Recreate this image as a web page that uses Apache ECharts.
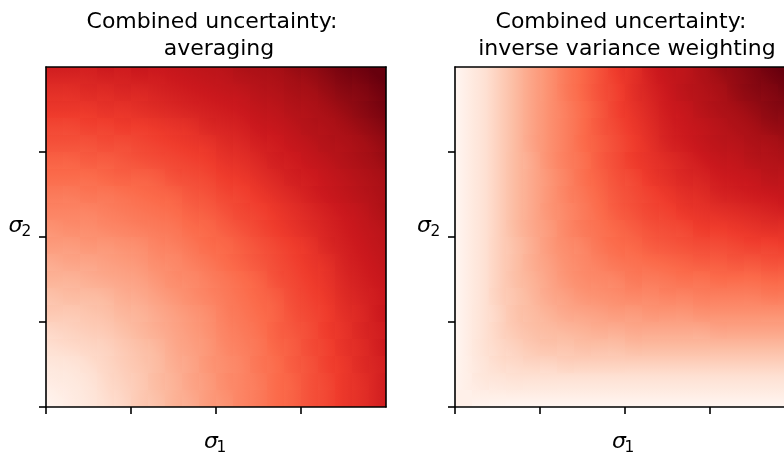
<!DOCTYPE html>
<html>
<head>
<meta charset="utf-8">
<script src="https://cdn.jsdelivr.net/npm/echarts@6/dist/echarts.min.js"></script>
<style>
  html, body { margin: 0; padding: 0; background: #fff; }
  #chart { width: 784px; height: 457px; }
</style>
</head>
<body>
<div id="chart"></div>
<script>
// sigma grid: cell centres along each axis (same for sigma_1 and sigma_2)
const SIGMA_CATEGORIES = ['0.025','0.075','0.125','0.175','0.225','0.275','0.325','0.375','0.425','0.475',
                          '0.525','0.575','0.625','0.675','0.725','0.775','0.825','0.875','0.925','0.975'];

// tick positions on the unit sigma axes (no tick labels are shown)
const TICK_VALUES = [0, 0.25, 0.5, 0.75];
const TICK_LABELS = ['', '', '', ''];

// combined uncertainty by averaging; one row per sigma_2 cell (bottom row first), one column per sigma_1 cell
const AVERAGING = [
  [.02,.04,.06,.09,.11,.14,.16,.19,.21,.24,.26,.29,.31,.34,.36,.39,.41,.44,.46,.49],
  [.04,.05,.07,.10,.12,.14,.17,.19,.22,.24,.27,.29,.31,.34,.36,.39,.41,.44,.46,.49],
  [.06,.07,.09,.11,.13,.15,.17,.20,.22,.25,.27,.29,.32,.34,.37,.39,.42,.44,.47,.49],
  [.09,.10,.11,.12,.14,.16,.18,.21,.23,.25,.28,.30,.32,.35,.37,.40,.42,.45,.47,.50],
  [.11,.12,.13,.14,.16,.18,.20,.22,.24,.26,.29,.31,.33,.36,.38,.40,.43,.45,.48,.50],
  [.14,.14,.15,.16,.18,.19,.21,.23,.25,.27,.30,.32,.34,.36,.39,.41,.43,.46,.48,.51],
  [.16,.17,.17,.18,.20,.21,.23,.25,.27,.29,.31,.33,.35,.37,.40,.42,.44,.47,.49,.51],
  [.19,.19,.20,.21,.22,.23,.25,.27,.28,.30,.32,.34,.36,.39,.41,.43,.45,.48,.50,.52],
  [.21,.22,.22,.23,.24,.25,.27,.28,.30,.32,.34,.36,.38,.40,.42,.44,.46,.49,.51,.53],
  [.24,.24,.25,.25,.26,.27,.29,.30,.32,.34,.35,.37,.39,.41,.43,.45,.48,.50,.52,.54],
  [.26,.27,.27,.28,.29,.30,.31,.32,.34,.35,.37,.39,.41,.43,.45,.47,.49,.51,.53,.55],
  [.29,.29,.29,.30,.31,.32,.33,.34,.36,.37,.39,.41,.42,.44,.46,.48,.50,.52,.54,.57],
  [.31,.31,.32,.32,.33,.34,.35,.36,.38,.39,.41,.42,.44,.46,.48,.50,.52,.54,.56,.58],
  [.34,.34,.34,.35,.36,.36,.37,.39,.40,.41,.43,.44,.46,.48,.50,.51,.53,.55,.57,.59],
  [.36,.36,.37,.37,.38,.39,.40,.41,.42,.43,.45,.46,.48,.50,.51,.53,.55,.57,.59,.61],
  [.39,.39,.39,.40,.40,.41,.42,.43,.44,.45,.47,.48,.50,.51,.53,.55,.57,.58,.60,.62],
  [.41,.41,.42,.42,.43,.43,.44,.45,.46,.48,.49,.50,.52,.53,.55,.57,.58,.60,.62,.64],
  [.44,.44,.44,.45,.45,.46,.47,.48,.49,.50,.51,.52,.54,.55,.57,.58,.60,.62,.64,.66],
  [.46,.46,.47,.47,.48,.48,.49,.50,.51,.52,.53,.54,.56,.57,.59,.60,.62,.64,.65,.67],
  [.49,.49,.49,.50,.50,.51,.51,.52,.53,.54,.55,.57,.58,.59,.61,.62,.64,.66,.67,.69]
];

// combined uncertainty by inverse variance weighting; same layout as above
const INVERSE_VARIANCE = [
  [.02,.02,.02,.02,.02,.02,.02,.02,.02,.02,.02,.02,.02,.02,.02,.02,.02,.02,.02,.02],
  [.02,.05,.06,.07,.07,.07,.07,.07,.07,.07,.07,.07,.07,.07,.07,.07,.07,.07,.07,.07],
  [.02,.06,.09,.10,.11,.11,.12,.12,.12,.12,.12,.12,.12,.12,.12,.12,.12,.12,.12,.12],
  [.02,.07,.10,.12,.14,.15,.15,.16,.16,.16,.17,.17,.17,.17,.17,.17,.17,.17,.17,.17],
  [.02,.07,.11,.14,.16,.17,.18,.19,.20,.20,.21,.21,.21,.21,.21,.22,.22,.22,.22,.22],
  [.02,.07,.11,.15,.17,.19,.21,.22,.23,.24,.24,.25,.25,.25,.26,.26,.26,.26,.26,.26],
  [.02,.07,.12,.15,.18,.21,.23,.25,.26,.27,.28,.28,.29,.29,.30,.30,.30,.30,.31,.31],
  [.02,.07,.12,.16,.19,.22,.25,.27,.28,.29,.31,.31,.32,.33,.33,.34,.34,.34,.35,.35],
  [.02,.07,.12,.16,.20,.23,.26,.28,.30,.32,.33,.34,.35,.36,.37,.37,.38,.38,.39,.39],
  [.02,.07,.12,.16,.20,.24,.27,.29,.32,.34,.35,.37,.38,.39,.40,.40,.41,.42,.42,.43],
  [.02,.07,.12,.17,.21,.24,.28,.31,.33,.35,.37,.39,.40,.41,.43,.43,.44,.45,.46,.46],
  [.02,.07,.12,.17,.21,.25,.28,.31,.34,.37,.39,.41,.42,.44,.45,.46,.47,.48,.49,.50],
  [.02,.07,.12,.17,.21,.25,.29,.32,.35,.38,.40,.42,.44,.46,.47,.49,.50,.51,.52,.53],
  [.02,.07,.12,.17,.21,.25,.29,.33,.36,.39,.41,.44,.46,.48,.49,.51,.52,.53,.55,.55],
  [.02,.07,.12,.17,.21,.26,.30,.33,.37,.40,.43,.45,.47,.49,.51,.53,.54,.56,.57,.58],
  [.02,.07,.12,.17,.22,.26,.30,.34,.37,.40,.43,.46,.49,.51,.53,.55,.56,.58,.59,.61],
  [.02,.07,.12,.17,.22,.26,.30,.34,.38,.41,.44,.47,.50,.52,.54,.56,.58,.60,.62,.63],
  [.02,.07,.12,.17,.22,.26,.30,.34,.38,.42,.45,.48,.51,.53,.56,.58,.60,.62,.64,.65],
  [.02,.07,.12,.17,.22,.26,.31,.35,.39,.42,.46,.49,.52,.55,.57,.59,.62,.64,.65,.67],
  [.02,.07,.12,.17,.22,.26,.31,.35,.39,.43,.46,.50,.53,.55,.58,.61,.63,.65,.67,.69]
];

const PANEL_TITLES = [
  ['Combined uncertainty:', 'averaging'],
  ['Combined uncertainty:', 'inverse variance weighting']
];

// "Reds" sequential colour ramp and the value range it spans
const REDS = ['#fff5f0','#fee0d2','#fcbba1','#fc9272','#fb6a4a','#ef3b2c','#cb181d','#a50f15','#67000d'];
const COLOR_MIN = 0;
const COLOR_MAX = 0.69;

function colorOf(v) {
  const t = Math.max(0, Math.min(1, (v - COLOR_MIN) / (COLOR_MAX - COLOR_MIN)));
  return echarts.color.lerp(t, REDS);
}

function toCells(rows) {
  const out = [];
  rows.forEach((row, j) => row.forEach((v, i) => out.push([i, j, v])));
  return out;
}

// Each cell is placed through the category axes and shaded with a linear
// gradient that follows the local slope of the table, so neighbouring
// cells blend into a continuous field instead of flat blocks.
function shadedCells(rows) {
  const n = rows.length;
  const at = (i, j) => rows[j][i];
  return function (params, api) {
    const i = api.value(0), j = api.value(1), v = api.value(2);
    const c = api.coord([i, j]);
    const size = api.size([1, 1]);
    const w = size[0], h = size[1];
    const dx = i === 0 ? at(1, j) - at(0, j)
             : i === n - 1 ? at(n - 1, j) - at(n - 2, j)
             : (at(i + 1, j) - at(i - 1, j)) / 2;
    const dy = j === 0 ? at(i, 1) - at(i, 0)
             : j === n - 1 ? at(i, n - 1) - at(i, n - 2)
             : (at(i, j + 1) - at(i, j - 1)) / 2;
    const gx = dx / w, gy = -dy / h;
    const m = Math.hypot(gx, gy);
    let fill = colorOf(v);
    if (m > 1e-9) {
      const ux = gx / m, uy = gy / m;
      const half = (Math.abs(ux) * w + Math.abs(uy) * h) / 2;
      const stops = [];
      for (let k = 0; k <= 6; k++) {
        const t = k / 6;
        stops.push({ offset: t, color: colorOf(v + m * (-half + 2 * half * t)) });
      }
      fill = new echarts.graphic.LinearGradient(
        c[0] - ux * half, c[1] - uy * half, c[0] + ux * half, c[1] + uy * half, stops, true);
    }
    return {
      type: 'rect',
      shape: { x: c[0] - w / 2, y: c[1] - h / 2, width: w, height: h },
      style: { fill: fill, stroke: null }
    };
  };
}

const LINE = { color: '#000', width: 1.6 };
const TEXT_FONT = '22px "DejaVu Sans"';
const SIGMA_FONT = 'italic 22px "DejaVu Sans"';
const SUB_FONT = '15.4px "DejaVu Sans"';

function categoryAxis(gridIndex, position) {
  return {
    type: 'category', gridIndex, position, data: SIGMA_CATEGORIES, z: 10,
    axisLine: { show: true, onZero: false, lineStyle: LINE },
    axisTick: { show: false }, axisLabel: { show: false }, splitLine: { show: false }
  };
}
function tickAxis(gridIndex, position) {
  return {
    type: 'value', gridIndex, position, min: 0, max: 1, z: 10,
    axisLine: { show: true, onZero: false, lineStyle: LINE },
    axisTick: { show: true, length: 7, customValues: TICK_VALUES, lineStyle: LINE },
    axisLabel: { show: false, customValues: TICK_VALUES, formatter: (v) => TICK_LABELS[TICK_VALUES.indexOf(v)] || '' },
    splitLine: { show: false }
  };
}

function text(x, y, str, font, align) {
  return {
    type: 'text', x, y, z: 100,
    style: { text: str, font, fill: '#000', textAlign: align || 'center', textVerticalAlign: 'middle' }
  };
}

const chart = echarts.init(document.getElementById('chart'), null, { renderer: 'canvas' });

chart.setOption({
  animation: false,
  backgroundColor: '#fff',
  grid: [
    { left: 46, top: 67, width: 340, height: 340, outerBoundsMode: 'none', containLabel: false },
    { left: 455, top: 67, width: 340, height: 340, outerBoundsMode: 'none', containLabel: false }
  ],
  xAxis: [categoryAxis(0, 'top'), tickAxis(0, 'bottom'), categoryAxis(1, 'top'), tickAxis(1, 'bottom')],
  yAxis: [categoryAxis(0, 'right'), tickAxis(0, 'left'), categoryAxis(1, 'right'), tickAxis(1, 'left')],
  series: [
    {
      type: 'custom', xAxisIndex: 0, yAxisIndex: 0, data: toCells(AVERAGING),
      renderItem: shadedCells(AVERAGING), silent: true, clip: true
    },
    {
      type: 'custom', xAxisIndex: 2, yAxisIndex: 2, data: toCells(INVERSE_VARIANCE),
      renderItem: shadedCells(INVERSE_VARIANCE), silent: true, clip: true
    }
  ],
  graphic: [
    text(212, 22.5, PANEL_TITLES[0][0], TEXT_FONT),
    text(219, 49, PANEL_TITLES[0][1], TEXT_FONT),
    text(621, 22.5, PANEL_TITLES[1][0], TEXT_FONT),
    text(627, 49, PANEL_TITLES[1][1], TEXT_FONT),
    // sigma_1 axis names
    text(204, 442.5, 'σ', SIGMA_FONT, 'left'),
    text(216.5, 448.4, '1', SUB_FONT, 'left'),
    text(612, 442.5, 'σ', SIGMA_FONT, 'left'),
    text(624.5, 448.4, '1', SUB_FONT, 'left'),
    // sigma_2 axis names
    text(8.5, 226.5, 'σ', SIGMA_FONT, 'left'),
    text(21.5, 232, '2', SUB_FONT, 'left'),
    text(417, 226.5, 'σ', SIGMA_FONT, 'left'),
    text(430.5, 232, '2', SUB_FONT, 'left')
  ]
});
</script>
</body>
</html>
